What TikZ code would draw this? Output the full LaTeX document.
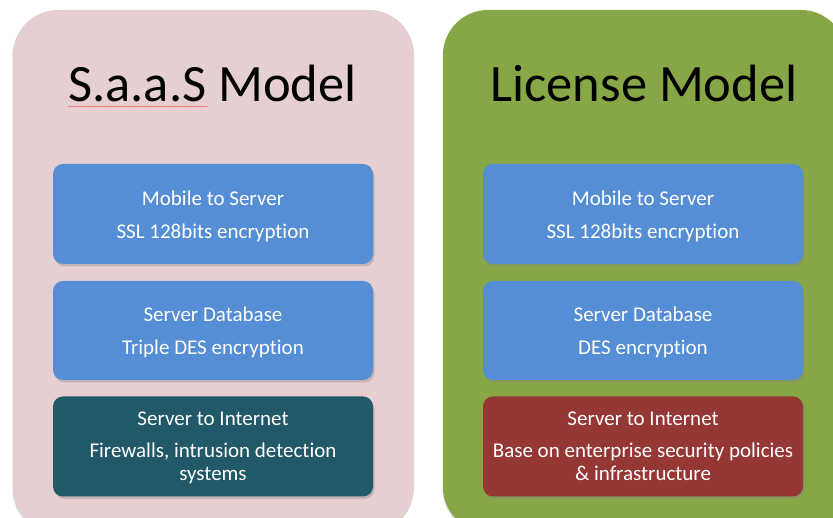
\documentclass[tikz,border=0pt]{standalone}
\usepackage{fontspec}
\setmainfont{Carlito}[Ligatures=NoCommon]
\usetikzlibrary{shadows,decorations.pathmorphing}
\definecolor{panelpink}{RGB}{230,207,208}
\definecolor{panelgreen}{RGB}{135,167,70}
\definecolor{boxblue}{RGB}{85,142,213}
\definecolor{boxteal}{RGB}{33,89,104}
\definecolor{boxred}{RGB}{149,55,53}
\newcommand{\topstrut}{\rule{0pt}{18.5pt}}
\newcommand{\botstrut}{\rule[-5pt]{0pt}{5pt}}
\tikzset{
  panel/.style={rounded corners=45pt, drop shadow={shadow xshift=-0.5pt, shadow yshift=-2pt, opacity=0.3}},
  infobox/.style={rectangle, rounded corners=10pt, minimum width=320pt, inner sep=0pt,
    text=white, align=center, font=\fontsize{21}{23}\selectfont,
    drop shadow={shadow xshift=1.5pt, shadow yshift=-2.5pt, opacity=0.35}},
  titletext/.style={anchor=base, font=\fontsize{52.5}{60}\selectfont, text=black, inner sep=0pt},
  spellmark/.style={red!70, line width=0.3pt, decorate, decoration={snake, amplitude=0.5pt, segment length=2.5pt}}
}
\begin{document}
\begin{tikzpicture}[x=1pt,y=1pt]
\useasboundingbox (0,0) rectangle (833,518);
\clip (0,0) rectangle (833,518);
\fill[white] (0,0) rectangle (833,518);
% panels
\fill[panelpink, panel] (13,508) rectangle (414,-14);
\fill[panelgreen, panel] (443,508) rectangle (846,-14);
% titles
\node[titletext] (t1) at (212.5,416) {S.a.a.S Model};
\node[titletext] (t2) at (644,416) {License Model};
\draw[spellmark] (68,411.5) -- (208,411.5);
% left boxes
\node[infobox, fill=boxblue, minimum height=100pt] (l1) at (213,304) {\topstrut Mobile to Server\\[10pt]SSL 128bits encryption};
\node[infobox, fill=boxblue, minimum height=99pt] (l2) at (213,187.5) {\topstrut Server Database\\[10pt]Triple DES encryption};
\node[infobox, fill=boxteal, minimum height=100pt] (l3) at (213,71.5) {\topstrut Server to Internet\\[9.5pt]Firewalls, intrusion detection\\systems\botstrut};
% right boxes
\node[infobox, fill=boxblue, minimum height=100pt] (r1) at (643,304) {\topstrut Mobile to Server\\[10pt]SSL 128bits encryption};
\node[infobox, fill=boxblue, minimum height=99pt] (r2) at (643,187.5) {\topstrut Server Database\\[10pt]DES encryption};
\node[infobox, fill=boxred, minimum height=100pt] (r3) at (643,71.5) {\topstrut Server to Internet\\[9.5pt]Base on enterprise security policies\\\& infrastructure\botstrut};
\end{tikzpicture}
\end{document}
